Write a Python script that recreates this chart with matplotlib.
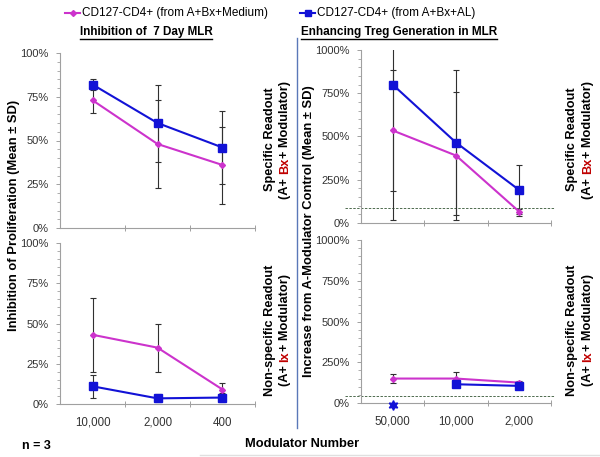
import numpy as np
import matplotlib
matplotlib.use("Agg")
import matplotlib.pyplot as plt
from matplotlib.lines import Line2D
from matplotlib.ticker import MultipleLocator, FuncFormatter

plt.rcParams['font.family'] = ['Liberation Sans', 'DejaVu Sans']

# ---------------- data ----------------
cats_left = ['10,000', '2,000', '400']
inh_spec_medium = [73, 48, 36]
inh_spec_medium_sd = [7, 25, 22]
inh_spec_al = [82, 60, 46]
inh_spec_al_sd = [3, 22, 21]
inh_non_medium = [43, 35, 9]
inh_non_medium_sd = [23, 15, 4]
inh_non_al = [11, 3.5, 4]
inh_non_al_sd = [7, 2.5, 3]

cats_right = ['50,000', '10,000', '2,000']
treg_spec_medium = [535, 390, 65]
treg_spec_medium_sd = [350, 370, 15]
treg_spec_al = [800, 465, 190]
treg_spec_al_sd = [780, 420, 148]
treg_non_medium = [150, 150, 125]
treg_non_medium_sd = [25, 42, 10]
treg_non_al = [np.nan, 115, 105]
treg_non_al_sd = [np.nan, 10, 8]
treg_non_al_star_cat = 0
treg_non_al_star_val = -15
baseline_spec = 87
baseline_non = 43

label_medium = 'CD127-CD4+ (from A+Bx+Medium)'
label_al = 'CD127-CD4+ (from A+Bx+AL)'

MAG = '#CC33CC'
BLU = '#1212D6'
ERR = '#303030'
SPINE = '#A0A0A0'
TICKC = '#333333'
RED = '#C00000'

W, H = 600, 457
fig = plt.figure(figsize=(6.0, 4.57), dpi=100)


def fx(px):
    return px / W


def fy(py):
    return 1 - py / H


def make_ax(x0, x1, y0, y1):
    return fig.add_axes([fx(x0), fy(y1), fx(x1) - fx(x0), (y1 - y0) / H])


ax_tl = make_ax(60, 255, 53, 228)
ax_bl = make_ax(60, 255, 243, 404)
ax_tr = make_ax(361, 551, 50, 223)
ax_br = make_ax(361, 551, 240, 403)


def style(ax, ymax, major, minor, labels=None):
    ax.set_xlim(-0.5, 2.5)
    ax.set_ylim(0, ymax)
    for s in ['top', 'right']:
        ax.spines[s].set_visible(False)
    for s in ['left', 'bottom']:
        ax.spines[s].set_color(SPINE)
        ax.spines[s].set_linewidth(0.8)
    ax.yaxis.set_major_locator(MultipleLocator(major))
    ax.yaxis.set_minor_locator(MultipleLocator(minor))
    ax.yaxis.set_major_formatter(FuncFormatter(lambda v, p: f'{v:.0f}%'))
    ax.tick_params(axis='y', which='major', direction='out', length=3, width=0.7,
                   color=SPINE, labelsize=8, labelcolor=TICKC, pad=5)
    ax.tick_params(axis='y', which='minor', direction='out', length=2, width=0.6,
                   color=SPINE)
    ax.set_xticks([0.5, 1.5, 2.5])
    ax.set_xticks([0, 1, 2], minor=True)
    ax.tick_params(axis='x', which='major', direction='inout', length=5, width=0.7,
                   color=SPINE, labelbottom=False)
    ax.tick_params(axis='x', which='minor', length=0, labelsize=8.3,
                   labelcolor=TICKC, pad=9)
    if labels is not None:
        ax.set_xticklabels(labels, minor=True)
    else:
        ax.tick_params(axis='x', which='minor', labelbottom=False)
    ax.patch.set_alpha(0)


def series(ax, vals, sd, color, marker, ms):
    x = np.arange(len(vals))
    ax.errorbar(x, vals, yerr=sd, fmt='none', ecolor=ERR, elinewidth=0.8,
                capsize=2.5, capthick=0.8, zorder=2)
    ax.plot(x, vals, color=color, lw=1.5, marker=marker, ms=ms,
            markeredgecolor=color, zorder=3)


style(ax_tl, 100, 25, 5)
style(ax_bl, 100, 25, 5, cats_left)
style(ax_tr, 1000, 250, 50)
style(ax_br, 1000, 250, 50, cats_right)

series(ax_tl, inh_spec_medium, inh_spec_medium_sd, MAG, 'D', 3)
series(ax_tl, inh_spec_al, inh_spec_al_sd, BLU, 's', 5.5)
series(ax_bl, inh_non_medium, inh_non_medium_sd, MAG, 'D', 3)
series(ax_bl, inh_non_al, inh_non_al_sd, BLU, 's', 5.5)
series(ax_tr, treg_spec_medium, treg_spec_medium_sd, MAG, 'D', 3)
series(ax_tr, treg_spec_al, treg_spec_al_sd, BLU, 's', 5.5)
series(ax_br, treg_non_medium, treg_non_medium_sd, MAG, 'D', 3)
series(ax_br, treg_non_al, treg_non_al_sd, BLU, 's', 5.5)
ax_br.plot([treg_non_al_star_cat], [treg_non_al_star_val], linestyle='none',
           marker=(6, 1, 0), ms=7, color=BLU, clip_on=False, zorder=4)

for ax, b in [(ax_tr, baseline_spec), (ax_br, baseline_non)]:
    ax.plot([-0.5 - 0.25, 2.56], [b, b], color='#4E6B4E', lw=0.7,
            linestyle=(0, (2.5, 1.5)), clip_on=False, zorder=1)

# separator line
fig.add_artist(Line2D([fx(297), fx(297)], [fy(38), fy(428)], color='#5A78B8',
                      lw=1.0, transform=fig.transFigure))
# faint bottom line
fig.add_artist(Line2D([fx(200), fx(600)], [fy(455), fy(455)], color='#E0E0E0',
                      lw=1.0, transform=fig.transFigure))

renderer = fig.canvas.get_renderer()


def tw(s, **kw):
    t = fig.text(0, 0, s, **kw)
    w = t.get_window_extent(renderer).width
    t.remove()
    return w


def vtext(xpx, ycpx, pieces, size=9.2, weight='bold'):
    kw = dict(fontsize=size, fontweight=weight)
    full = ''.join(p for p, c in pieces)
    total = tw(full, **kw)
    ref = tw('I', **kw)
    ystart = (H - ycpx) - total / 2
    prefix = ''
    for p, c in pieces:
        off = 0 if prefix == '' else tw(prefix + 'I', **kw) - ref
        fig.text(fx(xpx), (ystart + off) / H, p, rotation=90,
                 rotation_mode='anchor', ha='left', va='center', color=c, **kw)
        prefix += p


def utitle(xc, ypx, s, size=9):
    t = fig.text(fx(xc), fy(ypx), s, ha='center', va='center', fontsize=size,
                 fontweight='bold', color='black')
    bb = t.get_window_extent(renderer)
    yl = bb.y0 - 0.5
    fig.add_artist(Line2D([bb.x0 / W, bb.x1 / W], [yl / H, yl / H],
                          color='black', lw=1.0, transform=fig.transFigure))


utitle(146, 32, 'Inhibition of  7 Day MLR', size=8.4)
utitle(399, 32, 'Enhancing Treg Generation in MLR', size=8.5)

# legend
for x0, color, marker, ms, lab in [(65, MAG, 'D', 3, label_medium),
                                   (300, BLU, 's', 4.5, label_al)]:
    fig.add_artist(Line2D([fx(x0), fx(x0 + 15)], [fy(13), fy(13)], color=color,
                          lw=1.5, transform=fig.transFigure))
    fig.add_artist(Line2D([fx(x0 + 7.5)], [fy(13)], color=color, marker=marker,
                          ms=ms, linestyle='none', transform=fig.transFigure))
    fig.text(fx(x0 + 17), fy(13), lab, ha='left', va='center', fontsize=8.5,
             color='black')

# y labels
fig.text(fx(14), fy(215), 'Inhibition of Proliferation (Mean ± SD)', rotation=90,
         ha='center', va='center', fontsize=9.4, fontweight='bold')
fig.text(fx(309), fy(231), 'Increase from A-Modulator Control (Mean ± SD)',
         rotation=90, ha='center', va='center', fontsize=9.4, fontweight='bold')

# side labels
for xa, xb in [(270, 285), (572, 588)]:
    vtext(xa, 139, [('Specific Readout', 'black')])
    vtext(xb, 140, [('(A+ ', 'black'), ('Bx', RED), ('+ Modulator)', 'black')])
    vtext(xa, 330, [('Non-specific Readout', 'black')])
    vtext(xb, 330, [('(A+ ', 'black'), ('Ix', RED), ('+ Modulator)', 'black')])

fig.text(fx(22), fy(446), 'n = 3', ha='left', va='center', fontsize=9,
         fontweight='bold')
fig.text(fx(302), fy(444), 'Modulator Number', ha='center', va='center',
         fontsize=9.3, fontweight='bold')

fig.savefig('out.png', dpi=100)
